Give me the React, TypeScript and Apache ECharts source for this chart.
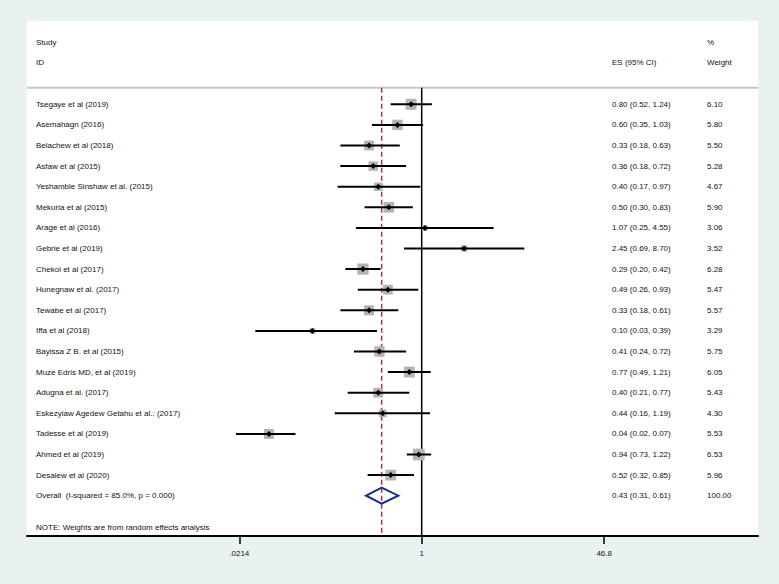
import React, { useEffect, useRef } from 'react';
import * as echarts from 'echarts';

// ---------- data ----------
const studies = [
  'Tsegaye et al (2019)',
  'Asemahagn (2016)',
  'Belachew et al (2018)',
  'Asfaw et al (2015)',
  'Yeshamble Sinshaw et al. (2015)',
  'Mekuria et al (2015)',
  'Arage et al (2016)',
  'Gebrie et al (2019)',
  'Chekol et al (2017)',
  'Hunegnaw et al. (2017)',
  'Tewabe et al (2017)',
  'Iffa et al (2018)',
  'Bayissa Z B. et al (2015)',
  'Muze Edris MD, et al (2019)',
  'Adugna et al. (2017)',
  'Eskezyiaw Agedew Getahu et al.: (2017)',
  'Tadesse et al (2019)',
  'Ahmed et al (2019)',
  'Desalew et al (2020)',
];
const esValues = [0.80, 0.60, 0.33, 0.36, 0.40, 0.50, 1.07, 2.45, 0.29, 0.49, 0.33, 0.10, 0.41, 0.77, 0.40, 0.44, 0.04, 0.94, 0.52];
const ciLower = [0.52, 0.35, 0.18, 0.18, 0.17, 0.30, 0.25, 0.69, 0.20, 0.26, 0.18, 0.03, 0.24, 0.49, 0.21, 0.16, 0.02, 0.73, 0.32];
const ciUpper = [1.24, 1.03, 0.63, 0.72, 0.97, 0.83, 4.55, 8.70, 0.42, 0.93, 0.61, 0.39, 0.72, 1.21, 0.77, 1.19, 0.07, 1.22, 0.85];
const weights = [6.10, 5.80, 5.50, 5.28, 4.67, 5.90, 3.06, 3.52, 6.28, 5.47, 5.57, 3.29, 5.75, 6.05, 5.43, 4.30, 5.53, 6.53, 5.96];

const overallLabel = 'Overall  (I-squared = 85.0%, p = 0.000)';
const overallES = 0.43;
const overallLo = 0.31;
const overallHi = 0.61;
const overallWeight = 100.0;
const nullValue = 1;

const tickValues = [0.0214, 1, 46.8];
const tickLabels = ['.0214', '1', '46.8'];
const noteText = 'NOTE: Weights are from random effects analysis';

// ---------- layout ----------
const W = 779;
const H = 584;
const PLOT_L = 27;
const PLOT_R = 758;
const PLOT_T = 20.7;
const PLOT_B = 536;
const ROW0 = 104.3;
const STEP = 20.6;
const HEADER_LINE = 87.7;
const X_ONE = 421.7;
const PX_PER_DECADE = 109.25;
const X_MIN = Math.pow(10, (PLOT_L - X_ONE) / PX_PER_DECADE);
const X_MAX = Math.pow(10, (PLOT_R - X_ONE) / PX_PER_DECADE);
const Y_MIN = (PLOT_T - ROW0) / STEP;
const Y_MAX = (PLOT_B - ROW0) / STEP;
const Y_HEADER = (HEADER_LINE - ROW0) / STEP;

const COL_STUDY = 36;
const COL_ES = 612;
const COL_W = 707;

const FONT = '"Liberation Sans", Arial, Helvetica, sans-serif';
const FS = 8;
const TXT = '#111';

const fmtES = (e: number, l: number, h: number) =>
  `${e.toFixed(2)} (${l.toFixed(2)}, ${h.toFixed(2)})`;

const textEl = (x: number, y: number, text: string, align = 'left') => ({
  type: 'text',
  x,
  y,
  style: {
    text,
    fill: TXT,
    fontSize: FS,
    fontFamily: FONT,
    align,
    verticalAlign: 'middle',
  },
});

export default function App() {
  const ref = useRef<HTMLDivElement>(null);

  useEffect(() => {
    if (!ref.current) return;
    const chart = echarts.init(ref.current, undefined, { renderer: 'svg' });

    const studyData = studies.map((s, i) => [esValues[i], i, ciLower[i], ciUpper[i], weights[i]]);
    const overallRow = studies.length;

    const option: any = {
      animation: false,
      backgroundColor: '#e9f1f1',
      grid: {
        left: PLOT_L,
        right: W - PLOT_R,
        top: PLOT_T,
        bottom: H - PLOT_B,
        show: true,
        backgroundColor: '#ffffff',
        borderWidth: 0,
      },
      xAxis: {
        type: 'log',
        logBase: 10,
        min: X_MIN,
        max: X_MAX,
        splitLine: { show: false },
        axisLine: { show: true, onZero: false, lineStyle: { color: '#000', width: 2 } },
        axisTick: { show: true, length: 8, customValues: tickValues, lineStyle: { color: '#000', width: 1.5 } },
        axisLabel: {
          show: true,
          customValues: tickValues,
          margin: 13,
          fontSize: FS,
          fontFamily: FONT,
          color: TXT,
          formatter: (v: number) => {
            let best = 0;
            for (let k = 0; k < tickValues.length; k++) {
              if (Math.abs(Math.log(v) - Math.log(tickValues[k])) < Math.abs(Math.log(v) - Math.log(tickValues[best]))) best = k;
            }
            return tickLabels[best];
          },
        },
        minorTick: { show: false },
      },
      yAxis: {
        type: 'value',
        inverse: true,
        min: Y_MIN,
        max: Y_MAX,
        show: false,
      },
      graphic: [
        {
          type: 'line',
          shape: { x1: PLOT_L, y1: HEADER_LINE, x2: PLOT_R, y2: HEADER_LINE },
          style: { stroke: '#c6c6cc', lineWidth: 2 },
          z: 1,
        },
        textEl(COL_STUDY, 42.3, 'Study'),
        textEl(COL_STUDY, 62.3, 'ID'),
        textEl(COL_ES, 62.3, 'ES (95% CI)'),
        textEl(COL_W, 42.3, '%'),
        textEl(COL_W, 62.3, 'Weight'),
        textEl(COL_STUDY, 527.3, noteText),
      ],
      series: [
        {
          type: 'custom',
          name: 'refLines',
          z: 1,
          data: [[overallES, overallRow]],
          renderItem: (params: any, api: any) => {
            const es = api.value(0);
            const r1a = api.coord([nullValue, Y_HEADER]);
            const r1b = api.coord([nullValue, Y_MAX]);
            const r2a = api.coord([es, Y_HEADER]);
            const r2b = api.coord([es, Y_MAX]);
            return {
              type: 'group',
              children: [
                {
                  type: 'line',
                  shape: { x1: r1a[0], y1: r1a[1], x2: r1b[0], y2: r1b[1] },
                  style: { stroke: '#000', lineWidth: 1.5 },
                },
                {
                  type: 'line',
                  shape: { x1: r2a[0], y1: r2a[1], x2: r2b[0], y2: r2b[1] },
                  style: { stroke: '#b03040', lineWidth: 1.5, lineDash: [5, 3] },
                },
              ],
            };
          },
        },
        {
          type: 'custom',
          name: 'studies',
          z: 3,
          data: studyData,
          renderItem: (params: any, api: any) => {
            const i = params.dataIndex;
            const es = api.value(0);
            const row = api.value(1);
            const lo = api.value(2);
            const hi = api.value(3);
            const w = api.value(4);
            const pE = api.coord([es, row]);
            const pL = api.coord([lo, row]);
            const pH = api.coord([hi, row]);
            const s = 1.8 * w;
            const d = 3;
            return {
              type: 'group',
              children: [
                {
                  type: 'rect',
                  shape: { x: pE[0] - s / 2, y: pE[1] - s / 2, width: s, height: s },
                  style: { fill: '#b4b4b4' },
                },
                {
                  type: 'line',
                  shape: { x1: pL[0], y1: pL[1], x2: pH[0], y2: pH[1] },
                  style: { stroke: '#000', lineWidth: 2 },
                },
                {
                  type: 'polygon',
                  shape: { points: [[pE[0], pE[1] - d], [pE[0] + d, pE[1]], [pE[0], pE[1] + d], [pE[0] - d, pE[1]]] },
                  style: { fill: '#000' },
                },
                textEl(COL_STUDY, pE[1], studies[i]),
                textEl(COL_ES, pE[1], fmtES(es, lo, hi)),
                textEl(COL_W, pE[1], w.toFixed(2)),
              ],
            };
          },
        },
        {
          type: 'custom',
          name: 'overall',
          z: 3,
          data: [[overallES, overallRow, overallLo, overallHi, overallWeight]],
          renderItem: (params: any, api: any) => {
            const es = api.value(0);
            const row = api.value(1);
            const lo = api.value(2);
            const hi = api.value(3);
            const w = api.value(4);
            const pE = api.coord([es, row]);
            const pL = api.coord([lo, row]);
            const pH = api.coord([hi, row]);
            const h = 8;
            return {
              type: 'group',
              children: [
                {
                  type: 'polygon',
                  shape: { points: [[pL[0], pL[1]], [pE[0], pE[1] - h], [pH[0], pH[1]], [pE[0], pE[1] + h]] },
                  style: { fill: 'none', stroke: '#1f2a88', lineWidth: 2 },
                },
                textEl(COL_STUDY, pE[1], overallLabel),
                textEl(COL_ES, pE[1], fmtES(es, lo, hi)),
                textEl(COL_W, pE[1], w.toFixed(2)),
              ],
            };
          },
        },
      ],
    };

    chart.setOption(option);
    return () => chart.dispose();
  }, []);

  return (
    <div
      ref={ref}
      style={{ position: 'fixed', left: 0, top: 0, width: W, height: H }}
    />
  );
}
